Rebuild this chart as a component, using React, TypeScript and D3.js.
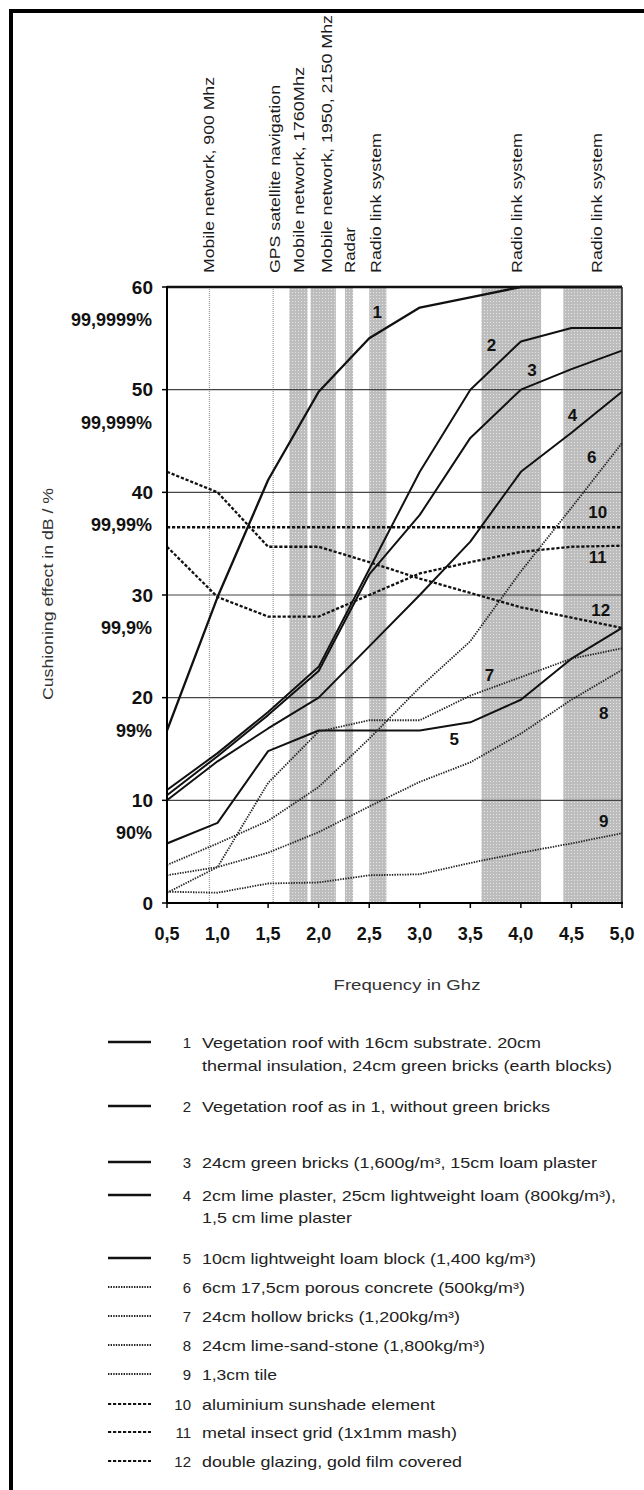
import React, { useEffect } from 'react';
import * as d3 from 'd3';

// ---------------- data ----------------
const freqs = [0.5, 1.0, 1.5, 2.0, 2.5, 3.0, 3.5, 4.0, 4.5, 5.0];

const s1 = [16.8, 29.8, 41.2, 49.8, 55.0, 58.0, 59.0, 60.0, 60.0, 60.0];
const s2 = [11.0, 14.6, 18.6, 23.0, 32.5, 42.0, 50.0, 54.7, 56.0, 56.0];
const s3 = [10.5, 14.3, 18.3, 22.6, 32.0, 37.8, 45.3, 50.0, 52.0, 53.8];
const s4 = [10.0, 13.8, 17.0, 20.0, 25.0, 30.0, 35.2, 42.0, 45.8, 49.8];
const s5 = [5.8, 7.8, 14.8, 16.8, 16.8, 16.8, 17.6, 19.8, 23.8, 26.8];
const s6 = [3.7, 5.8, 8.0, 11.3, 16.0, 21.0, 25.5, 32.3, 38.5, 44.8];
const s7 = [1.0, 3.5, 11.7, 16.7, 17.8, 17.8, 20.2, 22.0, 23.8, 24.8];
const s8 = [2.7, 3.5, 4.9, 6.9, 9.4, 11.8, 13.7, 16.5, 19.8, 22.7];
const s9 = [1.1, 1.0, 1.9, 2.0, 2.7, 2.8, 3.9, 4.9, 5.8, 6.8];
const s10 = [36.6, 36.6, 36.6, 36.6, 36.6, 36.6, 36.6, 36.6, 36.6, 36.6];
const s11 = [34.7, 29.8, 27.9, 27.9, 30.0, 32.1, 33.2, 34.2, 34.7, 34.8];
const s12 = [42.0, 40.0, 34.7, 34.7, 33.2, 31.6, 30.2, 28.8, 27.8, 26.8];

const seriesValues = [s1, s2, s3, s4, s5, s6, s7, s8, s9, s10, s11, s12];
const seriesNames = ['1', '2', '3', '4', '5', '6', '7', '8', '9', '10', '11', '12'];
const seriesKinds = ['solid', 'solid', 'solid', 'solid', 'solid', 'dotted', 'dotted', 'dotted', 'dotted', 'dashed', 'dashed', 'dashed'];

// curve number annotations (frequency, dB)
const curveLabelFreq = [2.58, 3.71, 4.11, 4.51, 3.34, 4.70, 3.69, 4.82, 4.82, 4.76, 4.76, 4.79];
const curveLabelDb = [57.5, 54.3, 51.9, 47.5, 15.9, 43.4, 22.2, 18.5, 7.9, 38.0, 33.7, 28.5];

const yTicks = [0, 10, 20, 30, 40, 50, 60];
const pctTicks = [10, 20, 30, 40, 50, 60];
const pctLabels = ['90%', '99%', '99,9%', '99,99%', '99,999%', '99,9999%'];
const xTicks = [0.5, 1.0, 1.5, 2.0, 2.5, 3.0, 3.5, 4.0, 4.5, 5.0];

const bandStart = [1.71, 1.92, 2.26, 2.50, 3.61, 4.42];
const bandEnd = [1.89, 2.17, 2.34, 2.67, 4.20, 5.0];
const serviceLineFreqs = [0.92, 1.55];

const serviceLabels = [
  'Mobile network, 900 Mhz',
  'GPS satellite navigation',
  'Mobile network, 1760Mhz',
  'Mobile network, 1950, 2150 Mhz',
  'Radar',
  'Radio link system',
  'Radio link system',
  'Radio link system',
];
const serviceLabelFreqs = [0.92, 1.57, 1.81, 2.08, 2.31, 2.57, 3.96, 4.75];

const legendNumbers = ['1', '', '2', '3', '4', '', '5', '6', '7', '8', '9', '10', '11', '12'];
const legendTexts = [
  'Vegetation roof with 16cm substrate. 20cm',
  'thermal insulation, 24cm green bricks (earth blocks)',
  'Vegetation roof as in 1, without green bricks',
  '24cm green bricks (1,600g/m³, 15cm loam plaster',
  '2cm lime plaster, 25cm lightweight loam (800kg/m³),',
  '1,5 cm lime plaster',
  '10cm lightweight loam block (1,400 kg/m³)',
  '6cm 17,5cm porous concrete (500kg/m³)',
  '24cm hollow bricks (1,200kg/m³)',
  '24cm lime-sand-stone (1,800kg/m³)',
  '1,3cm tile',
  'aluminium sunshade element',
  'metal insect grid (1x1mm mash)',
  'double glazing, gold film covered',
];
const legendKinds = ['solid', '', 'solid', 'solid', 'solid', '', 'solid', 'dotted', 'dotted', 'dotted', 'dotted', 'dashed', 'dashed', 'dashed'];

// ---------------- layout ----------------
const W = 644;
const H = 1490;
const PL = 167, PR = 622, PT = 287, PB = 903;
const FONT = "'Liberation Sans', Arial, Helvetica, sans-serif";

const legendY = [1042, 1065, 1106, 1162, 1195, 1217, 1258, 1287, 1316, 1345, 1374, 1404, 1432, 1461];
const legendLen = [339, 410, 348, 395, 414, 150, 334, 323, 258, 283, 75, 233, 255, 260];
const serviceLen = [196, 188, 206, 258, 46, 140, 140, 140];

function strokeFor(kind: string) {
  if (kind === 'solid') return { stroke: '#111', width: 2, dash: undefined as string | undefined };
  if (kind === 'dotted') return { stroke: '#222', width: 1.8, dash: '1.4 1.2' };
  return { stroke: '#111', width: 2.3, dash: '3.2 1.8' };
}

export default function App() {
  useEffect(() => {
    document.body.style.margin = '0';
  }, []);

  const x = d3.scaleLinear().domain([0.5, 5]).range([PL, PR]);
  const y = d3.scaleLinear().domain([0, 60]).range([PB, PT]);
  const line = d3
    .line<number>()
    .x((_, i) => x(freqs[i]))
    .y((d) => y(d));

  const fmtX = (v: number) => d3.format('.1f')(v).replace('.', ',');

  return (
    <svg width={W} height={H} style={{ position: 'absolute', left: 0, top: 0, background: '#fff' }} fontFamily={FONT}>
      <defs>
        <pattern id="dots" width="3" height="3" patternUnits="userSpaceOnUse">
          <rect width="3" height="3" fill="#bdbdbd" />
          <rect x="1" y="1" width="1" height="1" fill="#e4e4e4" />
        </pattern>
        <clipPath id="plotClip">
          <rect x={PL} y={PT - 2} width={PR - PL + 2} height={PB - PT + 4} />
        </clipPath>
      </defs>
      <rect x={0} y={0} width={W} height={H} fill="#fff" />
      {/* outer frame */}
      <rect x={11} y={11} width={W + 40} height={H + 40} fill="none" stroke="#000" strokeWidth={4} />

      {/* service labels */}
      {serviceLabels.map((t, i) => (
        <text
          key={'sl' + i}
          transform={`translate(${x(serviceLabelFreqs[i])},273) rotate(-90)`}
          fontSize={14}
          fill="#1a1a1a"
          dominantBaseline="central"
          textLength={serviceLen[i]}
          lengthAdjust="spacingAndGlyphs"
        >
          {t}
        </text>
      ))}

      {/* bands */}
      {bandStart.map((b, i) => (
        <rect key={'b' + i} x={x(b)} y={PT} width={x(bandEnd[i]) - x(b)} height={PB - PT} fill="url(#dots)" />
      ))}
      {serviceLineFreqs.map((f, i) => (
        <line key={'sv' + i} x1={x(f)} x2={x(f)} y1={PT} y2={PB} stroke="#999" strokeWidth={1.2} strokeDasharray="1 1" />
      ))}

      {/* grid */}
      {yTicks.filter((t) => t > 0 && t < 60).map((t) => (
        <line key={'g' + t} x1={PL} x2={PR} y1={y(t)} y2={y(t)} stroke="#444" strokeWidth={1.2} />
      ))}

      {/* series */}
      <g clipPath="url(#plotClip)">
        {seriesValues.map((vals, i) => {
          const st = strokeFor(seriesKinds[i]);
          return (
            <path
              key={'s' + i}
              d={line(vals) || ''}
              fill="none"
              stroke={st.stroke}
              strokeWidth={i === 0 ? 2.3 : st.width}
              strokeDasharray={st.dash}
              strokeLinejoin="round"
            />
          );
        })}
      </g>

      {/* frame of plot */}
      <line x1={PL} x2={PR} y1={PT} y2={PT} stroke="#111" strokeWidth={2.5} />
      <line x1={PR} x2={PR} y1={PT} y2={PB} stroke="#222" strokeWidth={1.5} />
      <line x1={PL} x2={PL} y1={PT - 1} y2={PB + 1} stroke="#000" strokeWidth={2} />
      <line x1={PL - 1} x2={PR + 1} y1={PB} y2={PB} stroke="#000" strokeWidth={2.2} />

      {/* y ticks */}
      {yTicks.map((t) => (
        <g key={'yt' + t}>
          <line x1={PL - 5} x2={PL} y1={y(t)} y2={y(t)} stroke="#000" strokeWidth={1.5} />
          <text x={153} y={y(t)} textAnchor="end" dominantBaseline="central" fontSize={19} fontWeight="bold" fill="#111">
            {t}
          </text>
        </g>
      ))}
      {pctTicks.map((t, i) => (
        <text key={'pt' + t} x={152} y={y(t) + 33} textAnchor="end" dominantBaseline="central" fontSize={18} fontWeight="bold" fill="#111">
          {pctLabels[i]}
        </text>
      ))}

      {/* x ticks */}
      {xTicks.map((t) => (
        <g key={'xt' + t}>
          <line x1={x(t)} x2={x(t)} y1={PB} y2={PB + 5} stroke="#000" strokeWidth={1.5} />
          <text x={x(t)} y={PB + 31} textAnchor="middle" dominantBaseline="central" fontSize={18} fontWeight="bold" fill="#111">
            {fmtX(t)}
          </text>
        </g>
      ))}

      {/* curve labels */}
      {seriesNames.map((n, i) => (
        <text
          key={'cl' + i}
          x={x(curveLabelFreq[i])}
          y={y(curveLabelDb[i])}
          textAnchor="middle"
          dominantBaseline="central"
          fontSize={17}
          fontWeight="bold"
          fill="#111"
        >
          {n}
        </text>
      ))}

      {/* axis titles */}
      <text
        transform={`translate(48,594) rotate(-90)`}
        textAnchor="middle"
        dominantBaseline="central"
        fontSize={14}
        fill="#333"
        textLength={212}
        lengthAdjust="spacingAndGlyphs"
      >
        Cushioning effect in dB / %
      </text>
      <text x={407} y={985} textAnchor="middle" dominantBaseline="central" fontSize={14} fill="#333" textLength={147} lengthAdjust="spacingAndGlyphs">
        Frequency in Ghz
      </text>

      {/* legend */}
      {legendTexts.map((t, i) => {
        const kind = legendKinds[i];
        const st = kind ? strokeFor(kind) : null;
        return (
          <g key={'lg' + i}>
            {st && (
              <line
                x1={108}
                x2={151}
                y1={legendY[i]}
                y2={legendY[i]}
                stroke={st.stroke}
                strokeWidth={kind === 'solid' ? 2.5 : 2.2}
                strokeDasharray={st.dash}
              />
            )}
            {legendNumbers[i] && (
              <text x={191} y={legendY[i]} textAnchor="end" dominantBaseline="central" fontSize={15} fill="#222">
                {legendNumbers[i]}
              </text>
            )}
            <text
              x={202}
              y={legendY[i]}
              dominantBaseline="central"
              fontSize={15}
              fill="#222"
              textLength={legendLen[i]}
              lengthAdjust="spacingAndGlyphs"
            >
              {t}
            </text>
          </g>
        );
      })}
    </svg>
  );
}
